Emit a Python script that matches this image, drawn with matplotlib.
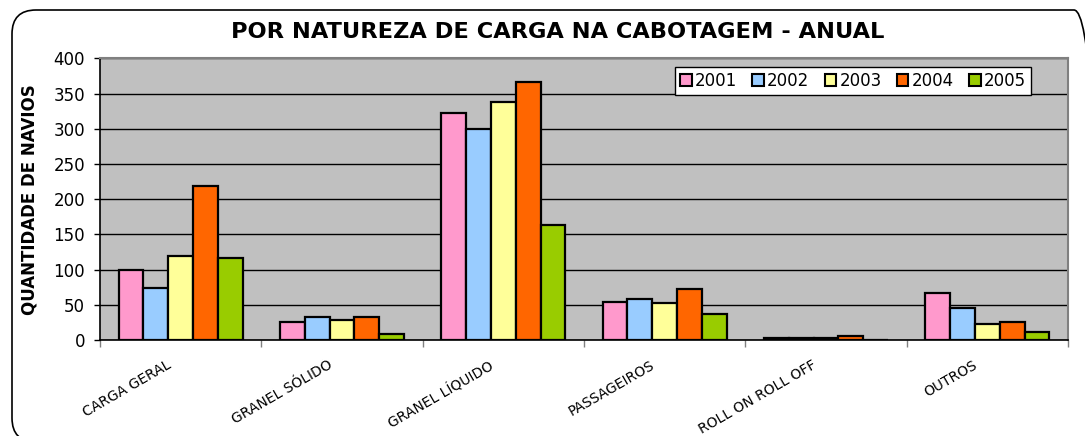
import numpy as np
import matplotlib
matplotlib.use("Agg")
import matplotlib.pyplot as plt
from matplotlib.patches import FancyBboxPatch, Patch
from matplotlib.transforms import IdentityTransform

categories = ["CARGA GERAL", "GRANEL SÓLIDO", "GRANEL LÍQUIDO",
              "PASSAGEIROS", "ROLL ON ROLL OFF", "OUTROS"]
years = ["2001", "2002", "2003", "2004", "2005"]
v2001 = [100, 26, 322, 54, 3, 67]
v2002 = [74, 32, 299, 58, 3, 45]
v2003 = [119, 29, 338, 53, 3, 23]
v2004 = [218, 32, 366, 72, 5, 25]
v2005 = [116, 9, 164, 37, 0, 12]
series = [v2001, v2002, v2003, v2004, v2005]
colors = ["#FF99CC", "#99CCFF", "#FFFF99", "#FF6600", "#99CC00"]
yticks = [0, 50, 100, 150, 200, 250, 300, 350, 400]

W, H = 1085, 436
fig = plt.figure(figsize=(W / 100, H / 100), dpi=100)
fig.patch.set_facecolor("white")

# rounded outer frame
frame = FancyBboxPatch((12, -6), 1086, 432,
                       boxstyle="round,pad=0,rounding_size=24",
                       transform=IdentityTransform(),
                       facecolor="none", edgecolor="black", linewidth=1.2)
fig.add_artist(frame)

left, right, top, bottom = 100, 1068, 58.3, 340
ax = fig.add_axes([left / W, (H - bottom) / H, (right - left) / W, (bottom - top) / H])
ax.set_facecolor("#C0C0C0")

n = len(series)
bw = 1.0 / (n + 1.5)
x = np.arange(len(categories))
for i, (vals, c) in enumerate(zip(series, colors)):
    offs = (i - (n - 1) / 2) * bw
    ax.bar(x + offs, vals, width=bw, color=c, edgecolor="black",
           linewidth=1.6, zorder=3)

ax.set_xlim(-0.5, len(categories) - 0.5)
ax.set_ylim(0, 400)
ax.set_yticks(yticks)
ax.set_yticklabels([str(t) for t in yticks], fontsize=12)
ax.tick_params(axis="y", direction="out", length=4.3, width=1, pad=6.5, color="black")
ax.yaxis.grid(True, color="black", linewidth=1)
ax.set_axisbelow(True)

ax.set_xticks(np.arange(-0.5, len(categories), 1.0))
ax.set_xticklabels([])
ax.tick_params(axis="x", direction="out", length=5, width=1, color="#808080")

for i, cat in enumerate(categories):
    ax.annotate(cat, xy=(i, 0), xycoords=("data", "axes fraction"),
                xytext=(-10.5, -13), textcoords="offset points",
                rotation=30, rotation_mode="anchor", ha="right", va="top",
                fontsize=10)

for s in ["left", "bottom"]:
    ax.spines[s].set_color("black")
    ax.spines[s].set_linewidth(1.2)
for s in ["top", "right"]:
    ax.spines[s].set_color("#808080")
    ax.spines[s].set_linewidth(1.5)

ax.set_ylabel("QUANTIDADE DE NAVIOS", fontsize=12, fontweight="bold")
ax.yaxis.set_label_coords((39 - left) / (right - left), 0.5)

fig.text(558 / W, 1 - 32 / H, "POR NATUREZA DE CARGA NA CABOTAGEM - ANUAL",
         ha="center", va="center", fontsize=16.2, fontweight="bold")

handles = [Patch(facecolor=c, edgecolor="black", linewidth=1.5) for c in colors]
leg = fig.legend(handles, years, loc="upper left",
                 bbox_to_anchor=(675 / W, 1 - 66.7 / H), ncol=5,
                 fontsize=12, frameon=True, fancybox=False,
                 handlelength=0.7, handleheight=0.7, handletextpad=0.2,
                 columnspacing=0.9, borderpad=0.3, borderaxespad=0)
leg.get_frame().set_edgecolor("black")
leg.get_frame().set_linewidth(1.0)
leg.get_frame().set_facecolor("white")
leg.get_frame().set_alpha(1)

fig.savefig("out.png", dpi=100)
